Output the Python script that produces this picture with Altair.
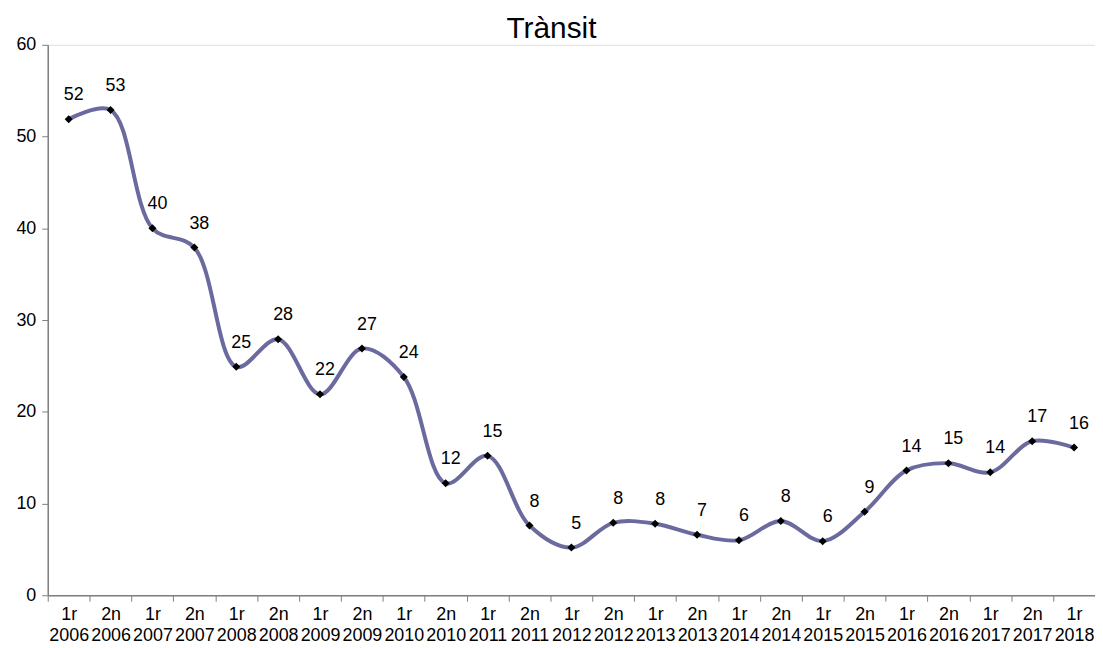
import altair as alt
import pandas as pd

periods = ["1r 2006", "2n 2006", "1r 2007", "2n 2007", "1r 2008", "2n 2008", "1r 2009", "2n 2009",
           "1r 2010", "2n 2010", "1r 2011", "2n 2011", "1r 2012", "2n 2012", "1r 2013", "2n 2013",
           "1r 2014", "2n 2014", "1r 2015", "2n 2015", "1r 2016", "2n 2016", "1r 2017", "2n 2017",
           "1r 2018"]
values = [51.9, 52.9, 40.0, 37.9, 24.9, 27.9, 21.9, 26.9, 23.8, 12.2, 15.2, 7.6, 5.2, 7.9, 7.8, 6.6,
          6.0, 8.1, 5.9, 9.1, 13.6, 14.4, 13.4, 16.8, 16.1]
labels = [52, 53, 40, 38, 25, 28, 22, 27, 24, 12, 15, 8, 5, 8, 8, 7, 6, 8, 6, 9, 14, 15, 14, 17, 16]

df = pd.DataFrame({"period": periods, "value": values, "label": labels})

FONT = "Liberation Sans"

x = alt.X("period:N", sort=periods, title=None,
          scale=alt.Scale(type="band", paddingInner=0, paddingOuter=0),
          axis=alt.Axis(labelAngle=0, tickBand="extent", labelExpr="split(datum.label, ' ')",
                        labelFontSize=18, labelFont=FONT, labelColor="#000000",
                        labelLineHeight=22, labelPadding=4,
                        domainColor="#7f7f7f", tickColor="#7f7f7f", tickSize=6,
                        domainWidth=1.5, grid=False))
y = alt.Y("value:Q", title=None,
          scale=alt.Scale(domain=[0, 60], nice=False),
          axis=alt.Axis(values=[0, 10, 20, 30, 40, 50, 60], labelFontSize=18, labelFont=FONT,
                        labelColor="#000000", domainColor="#7f7f7f", tickColor="#7f7f7f",
                        tickSize=6, domainWidth=1.5, labelPadding=6, grid=False))

base = alt.Chart(df).encode(x=x, y=y)

line = base.mark_line(interpolate="catmull-rom", color="#6a6a9e", strokeWidth=4)
pts = base.mark_point(shape="diamond", filled=True, color="#000000", size=65, opacity=1)
txt = base.mark_text(font=FONT, fontSize=18, color="#000000", dx=5, dy=-24,
                     baseline="middle", align="center").encode(text="label:Q")

chart = (line + pts + txt).properties(
    width=1054, height=554,
    title=alt.TitleParams("Trànsit", fontSize=30, font=FONT, fontWeight="normal",
                          color="#000000", anchor="middle", dx=-20, offset=-8),
    autosize=alt.AutoSizeParams(type="none"),
    padding={"left": 40, "top": 35, "right": 0, "bottom": 50},
).configure_view(stroke="transparent", strokeWidth=0, strokeOpacity=0, fill="white"
).configure_axis(grid=False, gridOpacity=0).configure(background="white")

chart.save("out.html", embed_options={"renderer": "svg", "actions": False})
